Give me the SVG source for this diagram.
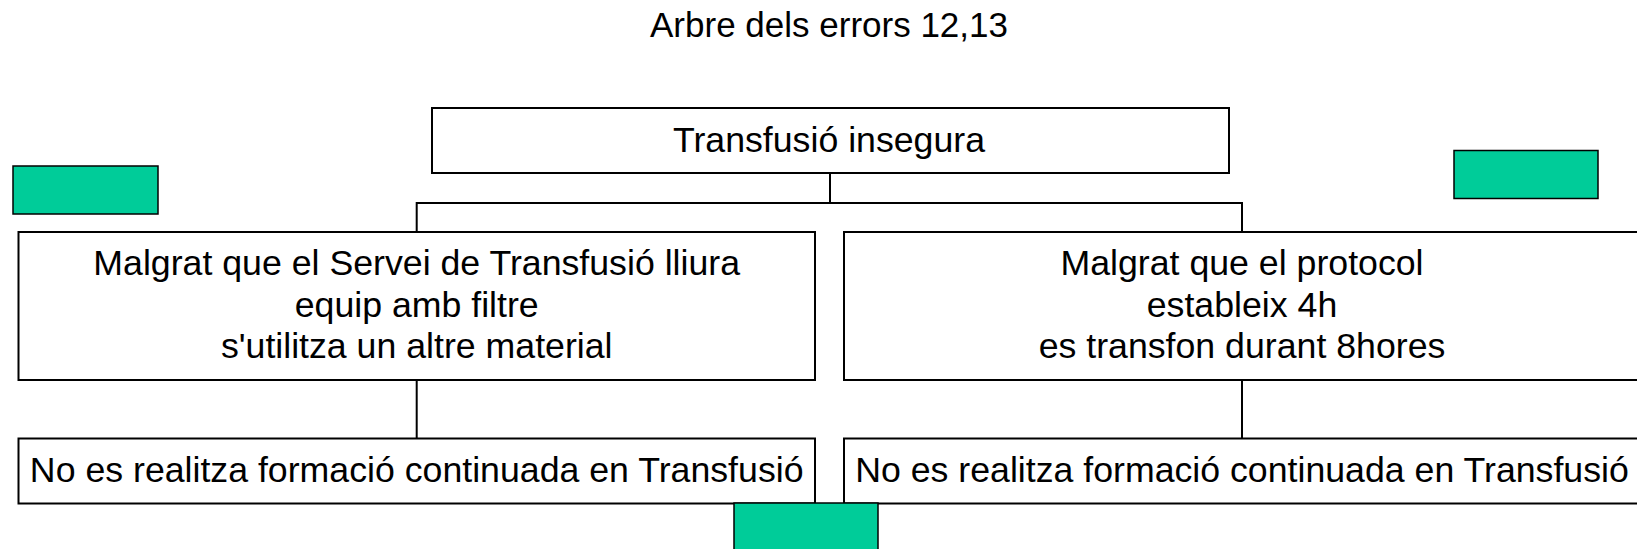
<svg xmlns="http://www.w3.org/2000/svg" width="1637" height="549" viewBox="0 0 1637 549">
<style>
.box{fill:#ffffff;stroke:#000000;stroke-width:2}
.green{fill:#00CC99;stroke:#000000;stroke-width:1.5}
.t{font-family:"Liberation Sans",Arial,sans-serif;font-size:35.7px;fill:#000000;text-anchor:middle}
.title{font-family:"Liberation Sans",Arial,sans-serif;font-size:35px;fill:#000000;text-anchor:middle}
.c{fill:none;stroke:#000000;stroke-width:2}
</style>
<rect width="1637" height="549" fill="#ffffff"/>
<text class="title" x="829" y="37">Arbre dels errors 12,13</text>
<g id="connectors">
<path class="c" d="M830,173 V203"/>
<path class="c" d="M416.7,232 V203 H1242 V232"/>
<path class="c" d="M416.7,380 V438.5"/>
<path class="c" d="M1242,380 V438.5"/>
</g>
<g id="top">
<rect class="box" x="432" y="108" width="797" height="65"/>
<text class="t" x="829" y="151.5">Transfusió insegura</text>
</g>
<g id="left">
<rect class="box" x="18.5" y="232" width="796.5" height="148"/>
<text class="t" x="416.7" y="275">Malgrat que el Servei de Transfusió lliura</text>
<text class="t" x="416.7" y="316.7">equip amb filtre</text>
<text class="t" x="416.7" y="358.3">s'utilitza un altre material</text>
</g>
<g id="right">
<rect class="box" x="844" y="232" width="797" height="148"/>
<text class="t" x="1242" y="275">Malgrat que el protocol</text>
<text class="t" x="1242" y="316.7">estableix 4h</text>
<text class="t" x="1242" y="358.3">es transfon durant 8hores</text>
</g>
<g id="bottom-left">
<rect class="box" x="18.5" y="438.5" width="796.5" height="65"/>
<text class="t" x="416.7" y="481.7">No es realitza formació continuada en Transfusió</text>
</g>
<g id="bottom-right">
<rect class="box" x="844" y="438.5" width="797" height="65"/>
<text class="t" x="1242" y="481.7">No es realitza formació continuada en Transfusió</text>
</g>
<g id="green-left">
<rect class="green" x="13" y="166" width="145" height="48"/>
</g>
<g id="green-right">
<rect class="green" x="1454" y="150.5" width="144" height="48"/>
</g>
<g id="green-bottom">
<rect class="green" x="734" y="503" width="144" height="60"/>
</g>
</svg>
